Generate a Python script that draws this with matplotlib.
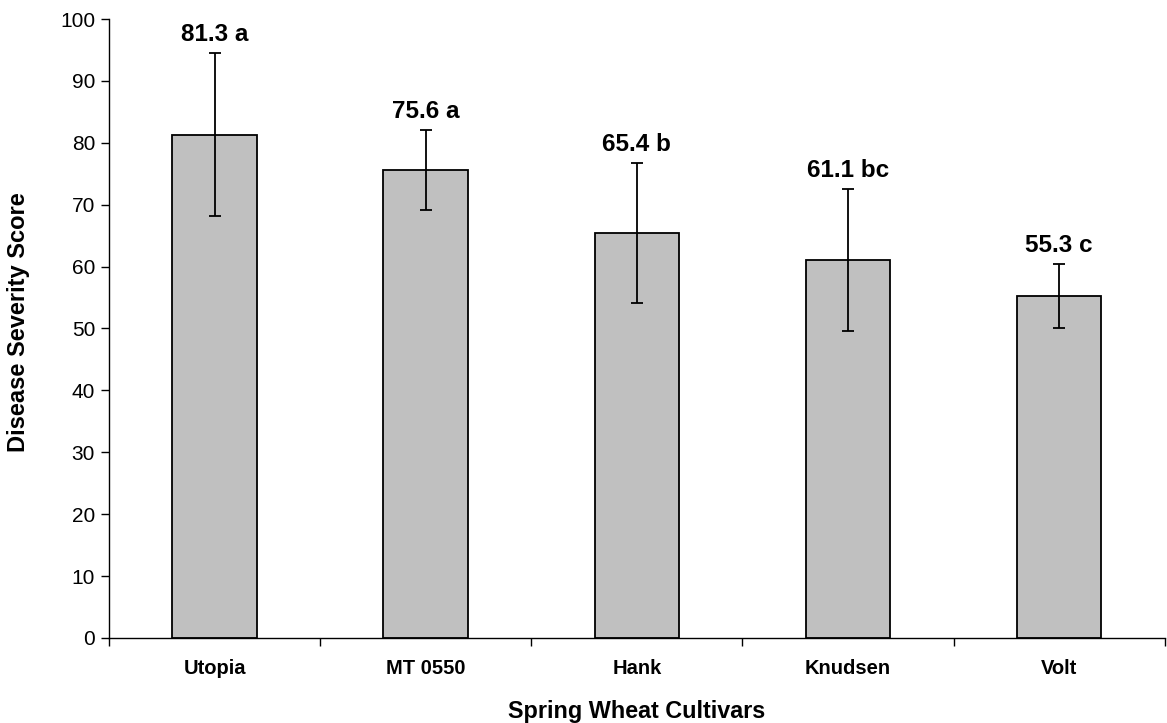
import matplotlib
matplotlib.use("Agg")
import matplotlib.pyplot as plt
import numpy as np

plt.rcParams['font.family'] = ['Liberation Sans', 'DejaVu Sans']

cultivars = ['Utopia', 'MT 0550', 'Hank', 'Knudsen', 'Volt']
severity = [81.3, 75.6, 65.4, 61.1, 55.3]
errors = [13.2, 6.5, 11.3, 11.5, 5.2]
letters = ['a', 'a', 'b', 'bc', 'c']

fig = plt.figure(figsize=(11.67, 7.23), dpi=100)
ax = fig.add_axes([0.0934, 0.1176, 0.9046, 0.8561])

x = np.arange(len(cultivars))
ax.bar(x, severity, width=0.4, color='#c0c0c0', edgecolor='black', linewidth=1.3, zorder=2)
ax.errorbar(x, severity, yerr=errors, fmt='none', ecolor='black', elinewidth=1.3,
            capsize=4.5, capthick=1.3, zorder=3)

# value + significance letter above each error bar
for xi, v, e, l in zip(x, severity, errors, letters):
    ax.annotate(f'{v} {l}', (xi, v + e), xytext=(0, 5), textcoords='offset points',
                ha='center', va='bottom', fontsize=17.5, fontweight='bold')

ax.set_xlim(-0.5, len(cultivars) - 0.5)
ax.set_ylim(0, 100)
ax.set_yticks(np.arange(0, 101, 10))

# tick marks between categories, names centred under bars
ax.set_xticks(np.arange(len(cultivars) + 1) - 0.5)
ax.set_xticklabels([])
ax.set_xticks(x, minor=True)
ax.set_xticklabels(cultivars, minor=True, fontsize=14.5, fontweight='bold')
ax.tick_params(axis='x', which='major', length=6, width=1, direction='out')
ax.tick_params(axis='x', which='minor', length=0, pad=15)
ax.tick_params(axis='y', length=6, width=1, direction='out', labelsize=15, pad=4)

for s in ['top', 'right']:
    ax.spines[s].set_visible(False)
for s in ['left', 'bottom']:
    ax.spines[s].set_linewidth(1)

ax.set_xlabel('Spring Wheat Cultivars', fontsize=16.8, fontweight='bold', labelpad=16)
ax.set_ylabel('Disease Severity Score', fontsize=17, fontweight='bold')
ax.yaxis.set_label_coords(-0.075, 0.51)

fig.savefig('out.png', dpi=100)
